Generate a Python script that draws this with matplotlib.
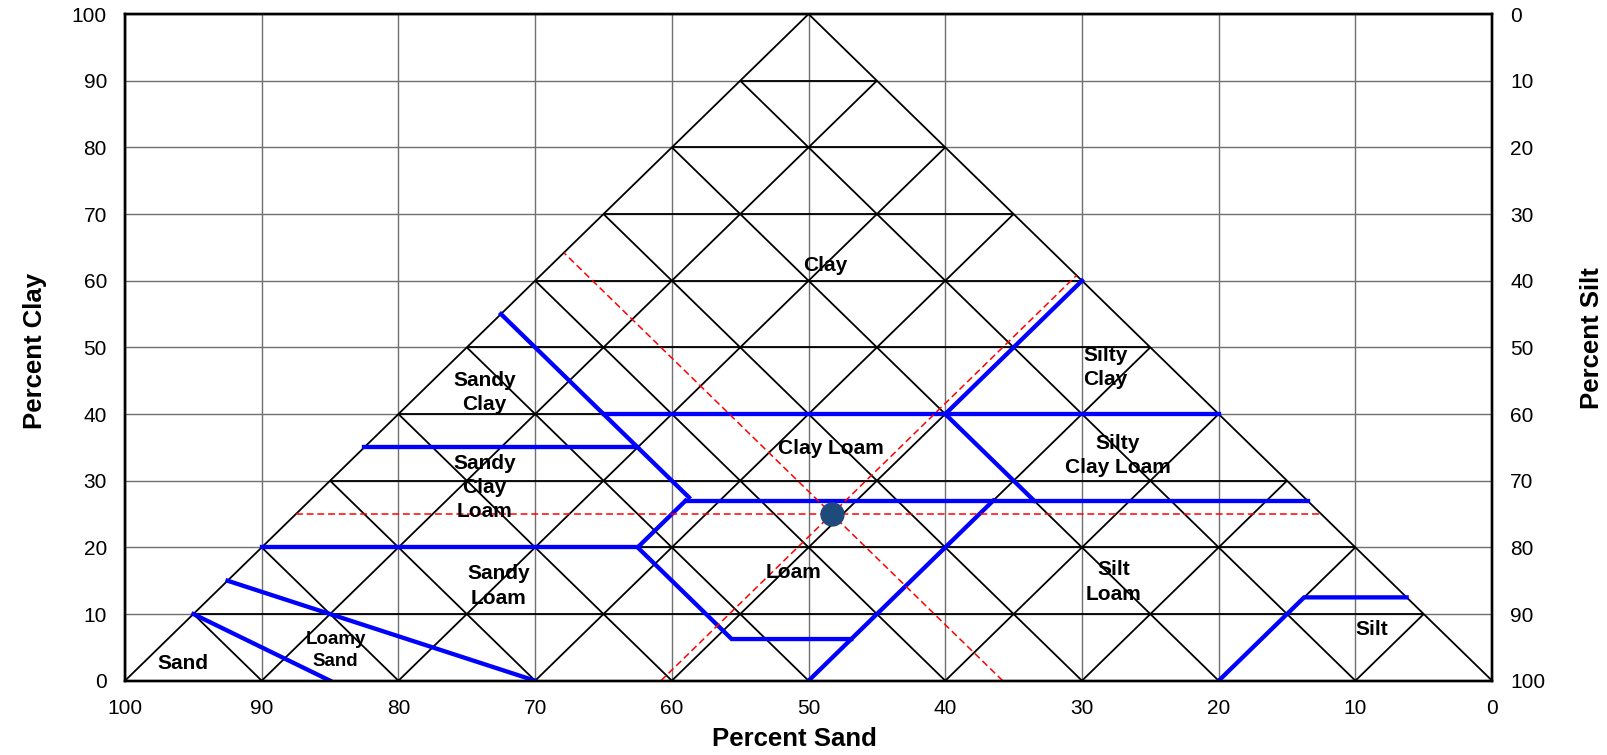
import matplotlib
matplotlib.use('Agg')
import matplotlib.pyplot as plt

plt.rcParams['font.family'] = ['Liberation Sans', 'DejaVu Sans']

# percent levels used for ticks and for the triangle grid
levels = [0, 10, 20, 30, 40, 50, 60, 70, 80, 90, 100]

# texture class boundaries, each one a run of (sand %, clay %) points
boundary_sand = [
    [90, 85],
    [85, 70],
    [80, 52.5],
    [65, 45],
    [45, 45, 45, 45],
    [45, 0],
    [20, 0],
    [20, 20],
    [45.5, 0],
    [45.5, 52.5, 52.5, 43.75],
    [50, 23],
    [20, 7.5, 0],
]
boundary_clay = [
    [10, 0],
    [15, 0],
    [20, 20],
    [35, 35],
    [55, 40, 35, 27.5],
    [40, 40],
    [40, 60],
    [40, 27],
    [27, 27],
    [27, 20, 6.25, 6.25],
    [0, 27],
    [0, 12.5, 12.5],
]

# the sample that is plotted
sample_sand = 35.8
sample_clay = 25.0
sample_silt = 39.2

class_names = ['Clay', 'Sandy\nClay', 'Sandy\nClay\nLoam', 'Clay Loam', 'Silty\nClay',
               'Silty\nClay Loam', 'Sandy\nLoam', 'Loam', 'Silt\nLoam', 'Silt',
               'Loamy\nSand', 'Sand']


def to_x(sand, clay):
    # position along the "Percent Sand" axis of a point in the triangle
    return sand + clay / 2.0


fig = plt.figure(figsize=(16.07, 7.55), dpi=100)
ax = fig.add_axes([0.0778, 0.0984, 0.8507, 0.883])

# triangle grid: lines of constant clay, sand and silt
tri = dict(color='black', lw=1.3, zorder=1, solid_capstyle='butt')
for v in levels[:-1]:
    ax.plot([to_x(100 - v, v), to_x(0, v)], [v, v], **tri)
    ax.plot([to_x(v, 0), to_x(v, 100 - v)], [0, 100 - v], **tri)
    ax.plot([to_x(100 - v, 0), to_x(0, 100 - v)], [0, 100 - v], **tri)

# class boundaries
for s, c in zip(boundary_sand, boundary_clay):
    ax.plot([to_x(a, b) for a, b in zip(s, c)], c, color='#0000FF', lw=3.1, zorder=2,
            solid_joinstyle='miter')

# guide lines through the sample
red = dict(color='#FF0000', lw=1.1, dashes=(4.5, 2.5), zorder=3)
ax.plot([to_x(100 - sample_clay, sample_clay), to_x(0, sample_clay)],
        [sample_clay, sample_clay], **red)
ax.plot([to_x(sample_sand, 0), to_x(sample_sand, 100 - sample_sand)],
        [0, 100 - sample_sand], **red)
ax.plot([to_x(100 - sample_silt, 0), to_x(0, 100 - sample_silt)],
        [0, 100 - sample_silt], **red)

ax.plot([to_x(sample_sand, sample_clay)], [sample_clay], 'o', ms=16.5,
        color='#1F4A7C', zorder=4)

# class names
label_x = [48.8, 73.7, 73.7, 48.35, 28.3, 27.4, 72.7, 51.1, 27.7, 8.8, 84.6, 95.8]
label_y = [62.3, 43.2, 29.0, 34.8, 47.0, 33.8, 14.2, 16.3, 14.8, 7.7, 4.5, 2.6]
for name, x, y in zip(class_names, label_x, label_y):
    size = 13.5 if name == 'Loamy\nSand' else 15
    ax.text(x, y, name, ha='center', va='center', fontsize=size, fontweight='bold',
            linespacing=1.35, zorder=5)

ax.set_xlim(100, 0)
ax.set_ylim(0, 100)
ax.set_xticks(levels)
ax.set_yticks(levels)
ax.grid(True, color='#707070', lw=1.0, zorder=0)
ax.set_axisbelow(True)
ax.tick_params(length=0, pad=13, labelsize=15)
for sp in ax.spines.values():
    sp.set_linewidth(1.7)

ax.set_xlabel('Percent Sand', fontsize=18.5, fontweight='bold')
ax.xaxis.label.set_va('center')
ax.xaxis.set_label_coords(0.49, -0.088)
ax.set_ylabel('Percent Clay', fontsize=18.5, fontweight='bold')
ax.yaxis.label.set_va('center')
ax.yaxis.set_label_coords(-0.066, 0.494)

ax2 = ax.twinx()
ax2.set_ylim(100, 0)
ax2.set_yticks(levels)
ax2.tick_params(length=0, pad=13, labelsize=15)
for sp in ax2.spines.values():
    sp.set_linewidth(1.7)
ax2.set_ylabel('Percent Silt', fontsize=18.5, fontweight='bold')
ax2.yaxis.label.set_va('center')
ax2.yaxis.set_label_coords(1.073, 0.514)

fig.savefig('out.png', dpi=100)
